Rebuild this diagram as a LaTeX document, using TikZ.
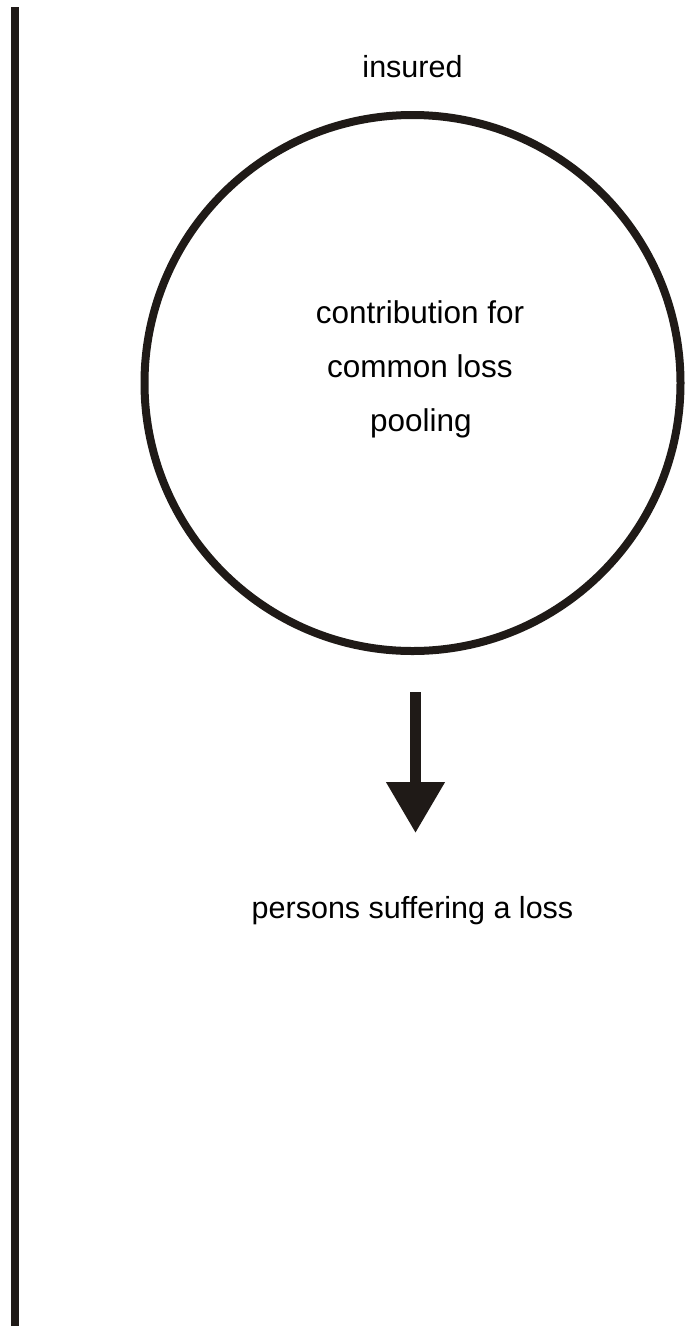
\documentclass[tikz,border=0pt]{standalone}
\usepackage{fontspec}
\setmainfont{Liberation Sans}
\usetikzlibrary{arrows.meta}
\definecolor{ink}{HTML}{1F1A17}
\tikzset{
  lbl/.style={font=\fontsize{30.5}{54.5}\selectfont, text=black, inner sep=0pt, anchor=base, align=center},
  inner/.style={lbl, font=\fontsize{31.5}{54.5}\selectfont},
  ring/.style={draw=ink, line width=8pt, circle, minimum size=536pt, inner sep=0pt},
  flow/.style={draw=ink, line width=11pt, -{Triangle[length=51pt, width=56pt]}, ink},
}
\begin{document}
\begin{tikzpicture}[x=1pt, y=-1pt]
  % page frame
  \path[use as bounding box] (0,0) rectangle (685,1326);
  \fill[white] (0,0) rectangle (685,1326);

  % vertical rule on the left
  \fill[ink] (11,7) rectangle (19,1326);

  % pool of contributions
  \node[ring] (pool) at (412.5,383) {};
  \node[lbl] (insured) at (412.5,77) {insured};
  \node[inner] (c1) at (420,323) {contribution for};
  \node[inner] (c2) at (420,377) {common loss};
  \node[inner] (c3) at (421,431) {pooling};

  % payout to the persons affected
  \node[lbl] (persons) at (412.5,918) {persons suffering a loss};
  \coordinate (from) at (415.5,692);
  \coordinate (to) at (415.5,833);
  \draw[flow] (from) -- (to);
\end{tikzpicture}
\end{document}
